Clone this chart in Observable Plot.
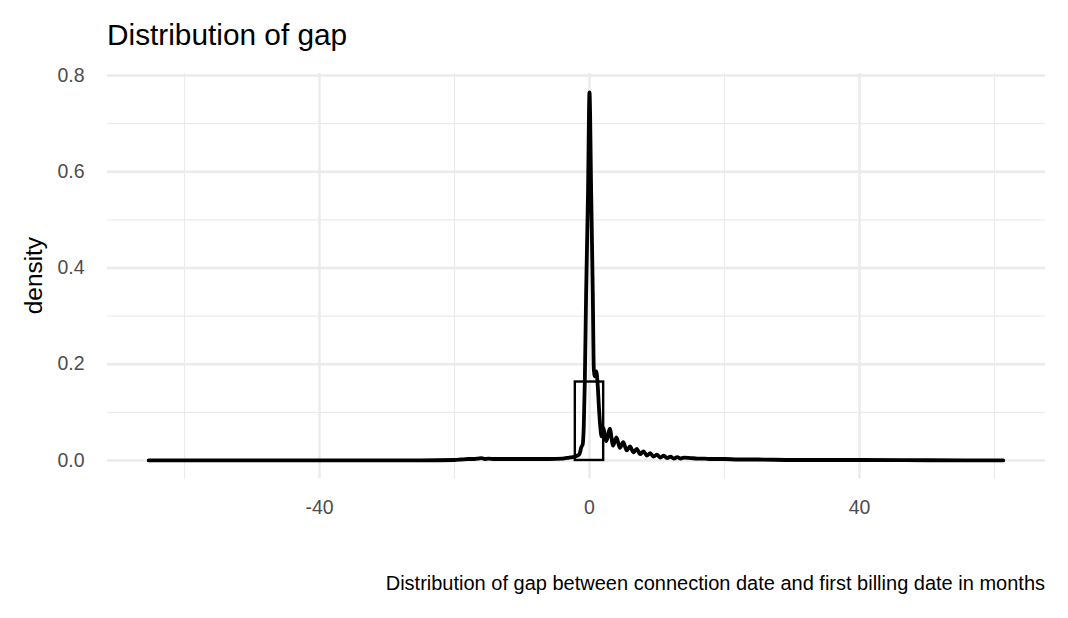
<!DOCTYPE html>
<html><head><meta charset="utf-8">
<script src="https://cdn.jsdelivr.net/npm/d3@7"></script>
<script src="https://cdn.jsdelivr.net/npm/@observablehq/plot@0.6"></script>
<style>body{margin:0;background:#fff;} svg{font-family:"Liberation Sans",Arial,sans-serif;}</style>
</head><body><div id="chart"></div>
<script>
// Kernel density of the gap (months)
const gapX = [-65.3, -40, -25, -20, -19, -18, -17, -16.5, -16, -15.5, -15, -14, -12, -10, -8, -6, -4, -3, -2.5, -2, -1.5, -1.2, -1.0, -0.85, -0.69, -0.5, -0.22, 0, 0.25, 0.49, 0.64, 0.8, 1.0, 1.2, 1.4, 1.6, 1.8, 2.0, 2.5, 3.0, 3.5, 4.0, 4.5, 5.0, 5.5, 6.0, 6.5, 7.0, 7.5, 8.0, 8.5, 9.0, 9.5, 10.0, 10.5, 11.0, 11.5, 12.0, 12.5, 13.0, 13.5, 14.0, 15, 16, 17, 18, 20, 22, 25, 30, 40, 50, 61.3];
const density = [0, 0, 0, 0.001, 0.002, 0.003, 0.003, 0.004, 0.005, 0.003, 0.004, 0.003, 0.003, 0.003, 0.003, 0.003, 0.004, 0.006, 0.007, 0.009, 0.013, 0.028, 0.034, 0.07, 0.166, 0.347, 0.555, 0.765, 0.555, 0.347, 0.19, 0.175, 0.185, 0.16, 0.11, 0.07, 0.05, 0.068, 0.04, 0.066, 0.031, 0.048, 0.026, 0.038, 0.021, 0.029, 0.017, 0.024, 0.013, 0.019, 0.01, 0.015, 0.008, 0.012, 0.006, 0.01, 0.005, 0.008, 0.004, 0.007, 0.004, 0.006, 0.005, 0.004, 0.004, 0.003, 0.003, 0.002, 0.002, 0.001, 0.001, 0.0005, 0];
// Histogram bar visible around zero
const binStart = [-2.1];
const binEnd = [2.1];
const binDensity = [0.163];
// Axis ticks
const xTicks = [-40, 0, 40];
const xMinor = [-60, -20, 20, 60];
const yTicks = [0, 0.2, 0.4, 0.6, 0.8];
const yMinor = [0.1, 0.3, 0.5, 0.7];

const curve = gapX.map((x, i) => ({x, y: density[i]}));
const bins = binStart.map((x1, i) => ({x1, x2: binEnd[i], y: binDensity[i]}));

const grid = "#ebebeb";
const plot = Plot.plot({
  width: 1068, height: 618,
  marginLeft: 107, marginRight: 23, marginTop: 72.9, marginBottom: 139.6,
  style: {fontFamily: '"Liberation Sans", Arial, sans-serif', background: "white"},
  x: {domain: [-71.41, 67.56]},
  y: {domain: [-0.0383, 0.8043]},
  marks: [
    Plot.ruleY(yMinor, {stroke: grid, strokeWidth: 1.2}),
    Plot.ruleY(yTicks, {stroke: grid, strokeWidth: 2.5}),
    Plot.ruleX(xMinor, {stroke: grid, strokeWidth: 1.2}),
    Plot.ruleX(xTicks, {stroke: grid, strokeWidth: 2.5}),
    Plot.rect(bins, {x1: "x1", x2: "x2", y1: () => 0, y2: "y", fill: "none", stroke: "black", strokeWidth: 2.4}),
    Plot.line(curve, {x: "x", y: "y", curve: "monotone-x", stroke: "black", strokeWidth: 3.8, strokeLinecap: "round", strokeLinejoin: "round"}),
    Plot.axisX({ticks: xTicks, tickSize: 0, tickPadding: 21, fontSize: 19.5, color: "#4d4d4d", tickFormat: d => String(d), label: null}),
    Plot.axisY({ticks: yTicks, tickSize: 0, tickPadding: 23, fontSize: 19.5, color: "#4d4d4d", tickFormat: d => d.toFixed(1), label: null})
  ]
});
document.getElementById("chart").appendChild(plot);

const svg = d3.select(plot);
svg.append("text").attr("x", 107).attr("y", 45).attr("text-anchor", "start").attr("font-size", 29.8).attr("fill", "black").text("Distribution of gap");
svg.append("text").attr("transform", "translate(42,275.6) rotate(-90)").attr("text-anchor", "middle").attr("font-size", 24.4).attr("fill", "black").text("density");
svg.append("text").attr("x", 1045).attr("y", 590).attr("text-anchor", "end").attr("font-size", 20).attr("fill", "black").text("Distribution of gap between connection date and first billing date in months");
</script></body></html>
